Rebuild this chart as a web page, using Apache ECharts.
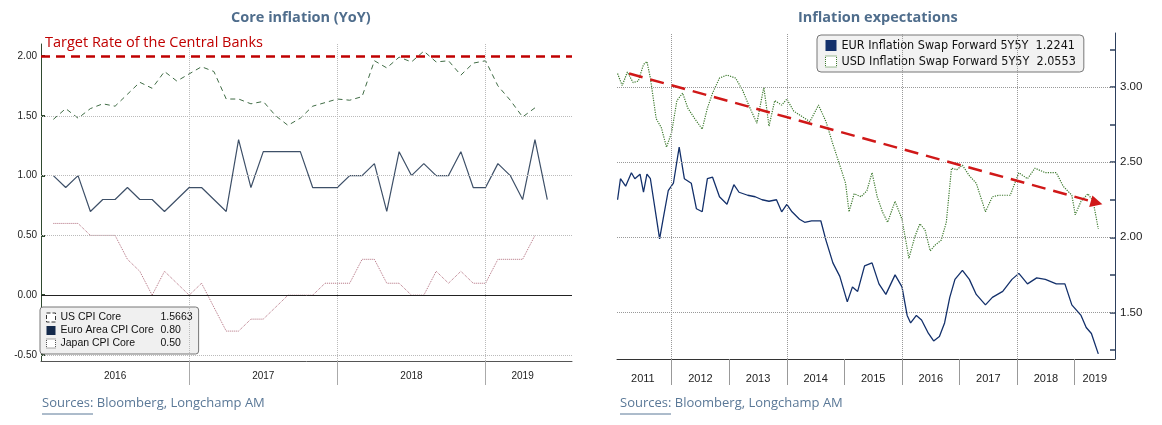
<!DOCTYPE html>
<html>
<head>
<meta charset="utf-8">
<script src="https://cdn.jsdelivr.net/npm/echarts@6/dist/echarts.min.js"></script>
<style>
  html, body { margin: 0; padding: 0; background: #fff; }
  #chart { width: 1162px; height: 425px; }
</style>
</head>
<body>
<div id="chart"></div>
<script>
// ---- left chart: core inflation, monthly Jan 2016 .. Aug 2019
var months = [];
for (var y = 2016; y <= 2019; y++) {
    for (var m = 1; m <= 12; m++) {
        if (y === 2019 && m > 8) break;
        months.push(y + '-' + (m < 10 ? '0' + m : m));
    }
}
// values start Feb 2016
var usCore = [1.47, 1.56, 1.48, 1.56, 1.60, 1.58, 1.68, 1.78, 1.73, 1.87, 1.79, 1.85, 1.91, 1.87,
    1.64, 1.64, 1.60, 1.62, 1.50, 1.42, 1.48, 1.58, 1.61, 1.64, 1.63, 1.66, 1.96, 1.90, 1.99, 1.95,
    2.04, 1.95, 1.96, 1.84, 1.94, 1.96, 1.75, 1.63, 1.49, 1.5663];
var euroCore = [1.0, 0.9, 1.0, 0.7, 0.8, 0.8, 0.9, 0.8, 0.8, 0.7, 0.8, 0.9, 0.9, 0.8, 0.7, 1.3,
    0.9, 1.2, 1.2, 1.2, 1.2, 0.9, 0.9, 0.9, 1.0, 1.0, 1.1, 0.7, 1.2, 1.0, 1.1, 1.0, 1.0, 1.2,
    0.9, 0.9, 1.1, 1.0, 0.8, 1.3, 0.8];
var japanCore = [0.6, 0.6, 0.6, 0.5, 0.5, 0.5, 0.3, 0.2, 0.0, 0.2, 0.1, 0.0, 0.1, -0.1, -0.3,
    -0.3, -0.2, -0.2, -0.1, 0.0, 0.0, 0.0, 0.1, 0.1, 0.1, 0.3, 0.3, 0.1, 0.1, 0.0, 0.0, 0.2,
    0.1, 0.2, 0.1, 0.1, 0.3, 0.3, 0.3, 0.5];
var targetRate = 2.0;
var leftTicks = [-0.5, 0, 0.5, 1.0, 1.5, 2.0];
var leftYearLines = ['2017-01', '2018-01', '2019-01'];

// ---- right chart: 5y5y inflation swap forwards (decimal years)
var eurDates = [2011.06, 2011.11, 2011.20, 2011.30, 2011.36, 2011.45, 2011.51, 2011.57, 2011.63, 2011.69,
    2011.79, 2011.85, 2011.94, 2012.03, 2012.13, 2012.22, 2012.34, 2012.43, 2012.53, 2012.62,
    2012.71, 2012.83, 2012.96, 2013.08, 2013.17, 2013.32, 2013.45, 2013.57, 2013.69, 2013.82,
    2013.91, 2014.00, 2014.09, 2014.22, 2014.31, 2014.43, 2014.59, 2014.68, 2014.80, 2014.92,
    2015.05, 2015.14, 2015.23, 2015.35, 2015.48, 2015.60, 2015.72, 2015.88, 2016.00, 2016.09,
    2016.15, 2016.25, 2016.34, 2016.46, 2016.55, 2016.65, 2016.74, 2016.83, 2016.92, 2017.05,
    2017.17, 2017.29, 2017.45, 2017.57, 2017.75, 2017.91, 2018.03, 2018.18, 2018.34, 2018.49,
    2018.68, 2018.83, 2018.95, 2019.11, 2019.20, 2019.29, 2019.41];
var eurValues = [2.25, 2.39, 2.34, 2.43, 2.39, 2.42, 2.30, 2.42, 2.39, 2.24,
    1.99, 2.12, 2.31, 2.36, 2.60, 2.39, 2.36, 2.19, 2.17, 2.39,
    2.40, 2.27, 2.22, 2.35, 2.30, 2.28, 2.27, 2.25, 2.24, 2.25,
    2.17, 2.22, 2.17, 2.12, 2.10, 2.11, 2.11, 1.98, 1.83, 1.74,
    1.57, 1.67, 1.64, 1.81, 1.83, 1.69, 1.62, 1.75, 1.67, 1.48,
    1.43, 1.48, 1.45, 1.36, 1.31, 1.34, 1.43, 1.60, 1.72, 1.78,
    1.72, 1.62, 1.55, 1.60, 1.64, 1.72, 1.76, 1.69, 1.73, 1.72,
    1.69, 1.69, 1.55, 1.48, 1.40, 1.36, 1.2241];
var usdDates = [2011.06, 2011.14, 2011.23, 2011.33, 2011.42, 2011.51, 2011.57, 2011.63, 2011.73, 2011.82,
    2011.91, 2012.00, 2012.09, 2012.19, 2012.28, 2012.40, 2012.53, 2012.62, 2012.71, 2012.83,
    2012.96, 2013.11, 2013.23, 2013.36, 2013.48, 2013.60, 2013.69, 2013.79, 2013.91, 2014.00,
    2014.12, 2014.28, 2014.40, 2014.55, 2014.68, 2014.80, 2014.92, 2015.02, 2015.08, 2015.17,
    2015.29, 2015.39, 2015.48, 2015.57, 2015.66, 2015.75, 2015.88, 2016.00, 2016.12, 2016.22,
    2016.31, 2016.40, 2016.49, 2016.58, 2016.68, 2016.77, 2016.86, 2016.95, 2017.05, 2017.17,
    2017.29, 2017.45, 2017.57, 2017.69, 2017.88, 2018.03, 2018.18, 2018.31, 2018.49, 2018.68,
    2018.80, 2018.95, 2019.01, 2019.11, 2019.23, 2019.32, 2019.41];
var usdValues = [3.09, 3.01, 3.10, 3.03, 3.04, 3.15, 3.17, 3.06, 2.79, 2.73,
    2.60, 2.70, 2.91, 2.96, 2.86, 2.79, 2.72, 2.86, 2.96, 3.06,
    3.08, 3.06, 2.98, 2.86, 2.76, 3.00, 2.74, 2.91, 2.88, 2.92,
    2.84, 2.80, 2.77, 2.88, 2.77, 2.62, 2.48, 2.36, 2.17, 2.29,
    2.27, 2.31, 2.43, 2.27, 2.17, 2.10, 2.24, 2.12, 1.86, 2.00,
    2.09, 2.05, 1.91, 1.95, 1.98, 2.10, 2.46, 2.45, 2.48, 2.41,
    2.36, 2.17, 2.27, 2.28, 2.28, 2.43, 2.39, 2.46, 2.43, 2.43,
    2.34, 2.28, 2.15, 2.24, 2.29, 2.24, 2.0553];
var trendStart = [2011.26, 3.09];
var trendEnd = [2019.38, 2.23];
var rightTicks = [1.5, 2.0, 2.5, 3.0];
var rightMinorTicks = [1.25, 1.5, 1.75, 2.0, 2.25, 2.5, 2.75, 3.0, 3.25];
var gridYears = [2012, 2014, 2016, 2018];
var yearTicks = [2012, 2013, 2014, 2015, 2016, 2017, 2018, 2019];
var yearLabelPos = [2011.5, 2012.5, 2013.5, 2014.5, 2015.5, 2016.5, 2017.5, 2018.5, 2019.35];

function pad(arr) { return [null].concat(arr); }
function pairs(xs, ys) { return xs.map(function (x, i) { return [x, ys[i]]; }); }

var font = 'Liberation Sans';
var titleColor = '#4f6d8c';
var dotted = { color: '#bbb', type: 'dotted', width: 1 };
var chart = echarts.init(document.getElementById('chart'));

chart.setOption({
    animation: false,
    textStyle: { fontFamily: font },
    title: [
        { text: 'Core inflation (YoY)', left: 226, top: 5,
          textStyle: { color: titleColor, fontSize: 14.5, fontWeight: 'bold', fontFamily: 'Open Sans' } },
        { text: 'Inflation expectations', left: 793, top: 5,
          textStyle: { color: titleColor, fontSize: 14.5, fontWeight: 'bold', fontFamily: 'Open Sans' } },
        { text: 'Target Rate of the Central Banks', left: 40, top: 30,
          textStyle: { color: '#c00000', fontSize: 14.5, fontWeight: 'normal', fontFamily: 'Open Sans' } }
    ],
    legend: [{
        left: 40, top: 307, orient: 'vertical',
        backgroundColor: '#f0f0f0', borderColor: '#777', borderWidth: 1, borderRadius: 3,
        padding: [5, 6], itemGap: 2, itemWidth: 9, itemHeight: 9,
        textStyle: { fontSize: 10.5, color: '#111',
            rich: { n: { width: 100, fontSize: 10.5 }, v: { fontSize: 10.5 } } },
        formatter: function (name) {
            var v = { 'US CPI Core': '1.5663', 'Euro Area CPI Core': '0.80', 'Japan CPI Core': '0.50' }[name];
            return '{n|' + name + '}{v|' + v + '}';
        },
        data: [
            { name: 'US CPI Core', icon: 'rect', itemStyle: { color: '#fff', borderColor: '#333', borderWidth: 1, borderType: 'dashed' } },
            { name: 'Euro Area CPI Core', icon: 'rect', itemStyle: { color: '#13294b' } },
            { name: 'Japan CPI Core', icon: 'rect', itemStyle: { color: '#fff', borderColor: '#555', borderWidth: 1, borderType: 'dotted' } }
        ]
    }, {
        left: 817, top: 35, orient: 'vertical',
        backgroundColor: '#f2f2f2', borderColor: '#777', borderWidth: 1, borderRadius: 4,
        padding: [4, 8], itemGap: 3, itemWidth: 11, itemHeight: 11,
        textStyle: { fontSize: 12.5, color: '#111', fontFamily: 'DejaVu Sans Condensed' },
        formatter: function (name) {
            return name + '  ' + (name.indexOf('EUR') === 0 ? '1.2241' : '2.0553');
        },
        data: [
            { name: 'EUR Inflation Swap Forward 5Y5Y', icon: 'rect', itemStyle: { color: '#13306b' } },
            { name: 'USD Inflation Swap Forward 5Y5Y', icon: 'rect', itemStyle: { color: '#fff', borderColor: '#3d7a2e', borderWidth: 1, borderType: 'dotted' } }
        ]
    }],
    grid: [
        { left: 41, right: 590, top: 44, bottom: 64 },
        { left: 617, right: 47, top: 33, bottom: 66 }
    ],
    xAxis: [{
        gridIndex: 0, type: 'category', data: months, boundaryGap: false,
        axisLine: { onZero: false, lineStyle: { color: '#555' } },
        axisTick: { length: 24, lineStyle: { color: '#aaa' },
            interval: function (i, v) { return v.slice(5) === '01' && v > '2016-06'; } },
        axisLabel: { fontSize: 10, color: '#222', margin: 10,
            interval: function (i, v) { return v.slice(5) === '07' && v < '2019' || v === '2019-04'; },
            formatter: function (v) { return v.slice(0, 4); } },
        splitLine: { show: false }
    }, {
        gridIndex: 1, type: 'value', min: 2011.05, max: 2019.7,
        axisLine: { onZero: false, lineStyle: { color: '#333' } },
        axisTick: { length: 26, customValues: yearTicks, lineStyle: { color: '#999' } },
        axisLabel: { customValues: yearLabelPos, fontSize: 11, color: '#222', margin: 14,
            formatter: function (v) { return String(Math.floor(v)); } },
        splitLine: { show: false }
    }],
    yAxis: [{
        gridIndex: 0, type: 'value', min: -0.55, max: 2.1,
        axisLine: { show: true, lineStyle: { color: '#2f4a2f' } },
        axisTick: { show: true, customValues: leftTicks, length: 4, inside: true, lineStyle: { color: '#2f4a2f', width: 2 } },
        axisLabel: { customValues: leftTicks, fontSize: 10, color: '#222', margin: 4,
            formatter: function (v) { return v.toFixed(2); } },
        splitLine: { show: false }
    }, {
        gridIndex: 1, type: 'value', position: 'right', min: 1.19, max: 3.36,
        axisLine: { show: true, lineStyle: { color: '#2d3f5c' } },
        axisTick: { show: true, customValues: rightMinorTicks, length: 5, inside: true, lineStyle: { color: '#2d3f5c', width: 1.5 } },
        axisLabel: { customValues: rightTicks, fontSize: 11.5, color: '#222', margin: 5,
            formatter: function (v) { return v.toFixed(2); } },
        splitLine: { show: false }
    }],
    series: [{
        name: 'Japan CPI Core', type: 'line', xAxisIndex: 0, yAxisIndex: 0,
        data: pad(japanCore), showSymbol: false, connectNulls: false,
        lineStyle: { color: '#b06c7c', width: 1, type: 'dotted' },
        markLine: {
            silent: true, symbol: 'none', label: { show: false }, lineStyle: dotted,
            data: [-0.5, 0.5, 1.0, 1.5].map(function (v) { return { yAxis: v }; })
                .concat(leftYearLines.map(function (v) { return { xAxis: v }; }))
                .concat([{ yAxis: 0, lineStyle: { color: '#222', type: 'solid', width: 1 } }])
        }
    }, {
        name: 'Euro Area CPI Core', type: 'line', xAxisIndex: 0, yAxisIndex: 0,
        data: pad(euroCore), showSymbol: false,
        lineStyle: { color: '#3e5068', width: 1.2 }
    }, {
        name: 'US CPI Core', type: 'line', xAxisIndex: 0, yAxisIndex: 0,
        data: pad(usCore), showSymbol: false,
        lineStyle: { color: '#3f6b44', width: 1, type: [5, 4] },
        markLine: {
            silent: true, symbol: 'none', label: { show: false },
            data: [{ yAxis: targetRate, lineStyle: { color: '#c00000', type: [9, 6], width: 2.5 } }]
        }
    }, {
        name: 'USD Inflation Swap Forward 5Y5Y', type: 'line', xAxisIndex: 1, yAxisIndex: 1,
        data: pairs(usdDates, usdValues), showSymbol: false,
        lineStyle: { color: '#3d7a2e', width: 1.2, type: 'dotted' },
        markLine: {
            silent: true, symbol: 'none', label: { show: false },
            lineStyle: { color: '#999', type: 'dotted', width: 1 },
            data: rightTicks.map(function (v) { return { yAxis: v }; })
                .concat(gridYears.map(function (v) { return { xAxis: v }; }))
        }
    }, {
        name: 'EUR Inflation Swap Forward 5Y5Y', type: 'line', xAxisIndex: 1, yAxisIndex: 1,
        data: pairs(eurDates, eurValues), showSymbol: false,
        lineStyle: { color: '#13306b', width: 1.3 }
    }, {
        name: 'trend', type: 'line', xAxisIndex: 1, yAxisIndex: 1, data: [],
        markLine: {
            silent: true, label: { show: false }, symbol: ['none', 'triangle'], symbolSize: [12, 12],
            lineStyle: { color: '#d01818', type: [14, 8], width: 2.5 },
            data: [[{ coord: trendStart }, { coord: trendEnd }]]
        }
    }],
    graphic: [
        { type: 'text', left: 42, top: 397, style: { text: 'Sources: Bloomberg, Longchamp AM', fill: '#5a7897', fontSize: 13, fontFamily: 'Open Sans' } },
        { type: 'line', shape: { x1: 42, y1: 414, x2: 93, y2: 414 }, style: { stroke: '#5a7897', lineWidth: 1 } },
        { type: 'text', left: 620, top: 397, style: { text: 'Sources: Bloomberg, Longchamp AM', fill: '#5a7897', fontSize: 13, fontFamily: 'Open Sans' } },
        { type: 'line', shape: { x1: 620, y1: 414, x2: 671, y2: 414 }, style: { stroke: '#5a7897', lineWidth: 1 } }
    ]
});
</script>
</body>
</html>
